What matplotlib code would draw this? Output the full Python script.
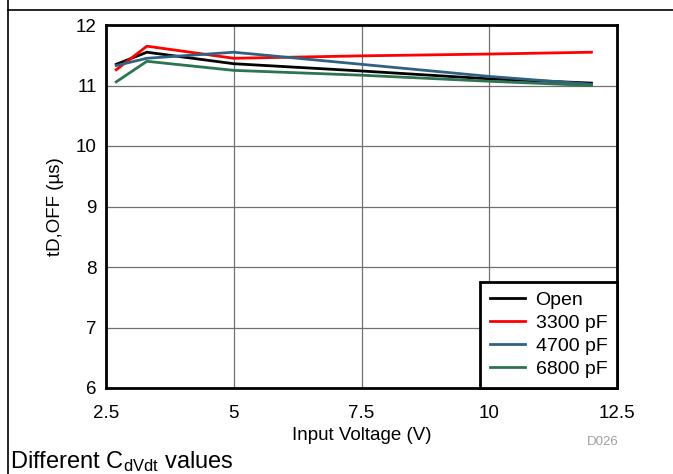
import matplotlib
matplotlib.use("Agg")
import matplotlib.pyplot as plt
from matplotlib.lines import Line2D

plt.rcParams['font.family'] = ['Liberation Sans', 'DejaVu Sans']
plt.rcParams['mathtext.fontset'] = 'custom'
plt.rcParams['mathtext.rm'] = 'Liberation Sans'
plt.rcParams['mathtext.it'] = 'Liberation Sans'

vin = [2.7, 3.3, 5, 7.5, 10, 12]
t_open = [11.35, 11.55, 11.36, 11.24, 11.11, 11.04]
t_3300 = [11.26, 11.65, 11.45, 11.49, 11.52, 11.55]
t_4700 = [11.33, 11.45, 11.55, 11.35, 11.15, 11.02]
t_6800 = [11.06, 11.40, 11.25, 11.17, 11.07, 11.00]

series = [("Open", t_open, "#000000"),
          ("3300 pF", t_3300, "#ff0000"),
          ("4700 pF", t_4700, "#2f6282"),
          ("6800 pF", t_6800, "#2e7352")]

xticks = [2.5, 5, 7.5, 10, 12.5]
xticklabels = ["2.5", "5", "7.5", "10", "12.5"]
yticks = [6, 7, 8, 9, 10, 11, 12]

fig = plt.figure(figsize=(6.73, 4.74), dpi=100)
ax = fig.add_axes([106/673, 1-388/474, (617-106)/673, (388-25)/474])

for name, vals, col in series:
    ax.plot(vin, vals, color=col, lw=2, label=name)

ax.set_xlim(2.5, 12.5)
ax.set_ylim(6, 12)
ax.set_xticks(xticks)
ax.set_xticklabels(xticklabels)
ax.set_yticks(yticks)
ax.grid(True, color="#707070", lw=0.9)
ax.set_axisbelow(True)
ax.tick_params(length=0, labelsize=13.5)
ax.tick_params(axis='x', pad=12.5)
ax.tick_params(axis='y', pad=6.5)
for s in ax.spines.values():
    s.set_linewidth(2)
    s.set_color("black")

ax.set_xlabel("Input Voltage (V)", fontsize=13.5, labelpad=3)
ax.set_ylabel("tD,OFF (\u00b5s)", fontsize=13.5, labelpad=9)

leg = ax.legend(loc="lower right", borderaxespad=0, fancybox=False,
                edgecolor="black", framealpha=1, fontsize=14,
                labelspacing=0.28, handlelength=1.8, handletextpad=0.55,
                borderpad=0.5)
leg.get_frame().set_linewidth(2)

fig.text(603/673, 1-442/474, "D026", color="#a0a0a0", fontsize=9.5,
         ha="center", va="center")
fig.text(10/673, 1-462/474, "Different C$_{\\mathrm{dVdt}}$ values",
         fontsize=17, ha="left", va="center")

fig.add_artist(Line2D([8/673, 8/673], [0, 1], color="black", lw=1.2,
                      transform=fig.transFigure))
fig.add_artist(Line2D([8/673, 1], [1-10/474, 1-10/474], color="black", lw=1.2,
                      transform=fig.transFigure))

fig.savefig("out.png", dpi=100)
